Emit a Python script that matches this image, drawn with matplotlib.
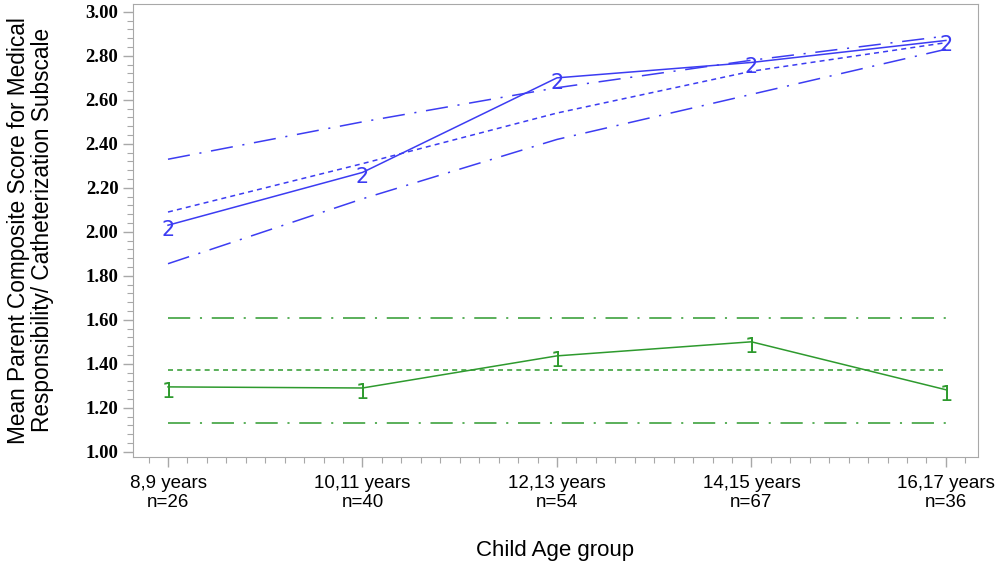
import numpy as np
import matplotlib.pyplot as plt
from matplotlib.ticker import MultipleLocator


###############################################################################
# Donnees
age_groups = ["8,9 years\nn=26", "10,11 years\nn=40", "12,13 years\nn=54",
              "14,15 years\nn=67", "16,17 years\nn=36"]

# groupe 2 (bleu)
g2_mean  = [2.03, 2.27, 2.70, 2.77, 2.87]
g2_fit   = [2.09, 2.31, 2.54, 2.73, 2.86]
g2_upper = [2.33, 2.50, 2.655, 2.78, 2.89]
g2_lower = [1.855, 2.15, 2.42, 2.625, 2.83]

# groupe 1 (vert)
g1_mean  = [1.295, 1.29, 1.436, 1.50, 1.282]
g1_fit   = [1.373, 1.373, 1.373, 1.373, 1.373]
g1_upper = [1.608, 1.608, 1.608, 1.608, 1.608]
g1_lower = [1.13, 1.13, 1.13, 1.13, 1.13]

BLUE  = "#3c3cf2"
GREEN = "#2e9a2e"
GRAY  = "#a8a8a8"

DOT     = (0, (3.6, 3.0))
DASHDOT = (0, (16, 7, 1.5, 7))


# -----------------------------------------------------------------------------
def trace_groupe(ax, x, mean, fit, upper, lower, color, symbol):
  ax.plot(x, fit, c=color, lw=1.1, ls=DOT)
  ax.plot(x, upper, c=color, lw=1.1, ls=DASHDOT)
  ax.plot(x, lower, c=color, lw=1.1, ls=DASHDOT)
  ax.plot(x, mean, c=color, lw=1.1)
  for xi, yi in zip(x, mean):
    ax.annotate(symbol, (xi, yi), xytext=(0, -3.5), textcoords="offset points",
                ha="center", va="center", color=color, fontsize=15,
                family="DejaVu Sans")


# -----------------------------------------------------------------------------
def main():
  plt.rcParams["lines.scale_dashes"] = False

  fig = plt.figure(figsize=(10, 5.64), dpi=100)
  ax = fig.add_axes([0.133, 0.19, 0.845, 0.803])

  x = np.arange(len(age_groups))
  trace_groupe(ax, x, g2_mean, g2_fit, g2_upper, g2_lower, BLUE, "2")
  trace_groupe(ax, x, g1_mean, g1_fit, g1_upper, g1_lower, GREEN, "1")

  ax.set_xlim(-0.18, 4.165)
  ax.set_ylim(0.977, 3.036)

  ax.set_xticks(x)
  ax.set_xticklabels(age_groups, family="Liberation Sans", fontsize=13.5,
                     linespacing=1.15)
  ax.xaxis.set_minor_locator(MultipleLocator(0.1))

  ax.yaxis.set_major_locator(MultipleLocator(0.2))
  ax.yaxis.set_minor_locator(MultipleLocator(0.04))
  ax.yaxis.set_major_formatter(plt.FormatStrFormatter("%.2f"))
  for lab in ax.get_yticklabels():
    lab.set_family("Liberation Serif")
    lab.set_fontweight("bold")
    lab.set_fontsize(13.5)

  for s in ax.spines.values():
    s.set_color(GRAY)
  ax.tick_params(which="both", direction="out", color=GRAY)
  ax.tick_params(which="major", length=7, width=1)
  ax.tick_params(which="minor", length=4, width=0.8)
  ax.tick_params(axis="x", which="major", pad=6)

  ax.set_xlabel("Child Age group", family="Liberation Sans", fontsize=16,
                labelpad=21)
  ax.set_ylabel("Mean Parent Composite Score for Medical\n"
                "Responsibility/ Catheterization Subscale",
                family="Liberation Sans", fontsize=16.3, linespacing=1.05,
                labelpad=23)

  fig.savefig("out.png", dpi=100)


if __name__ == '__main__':
  main()
